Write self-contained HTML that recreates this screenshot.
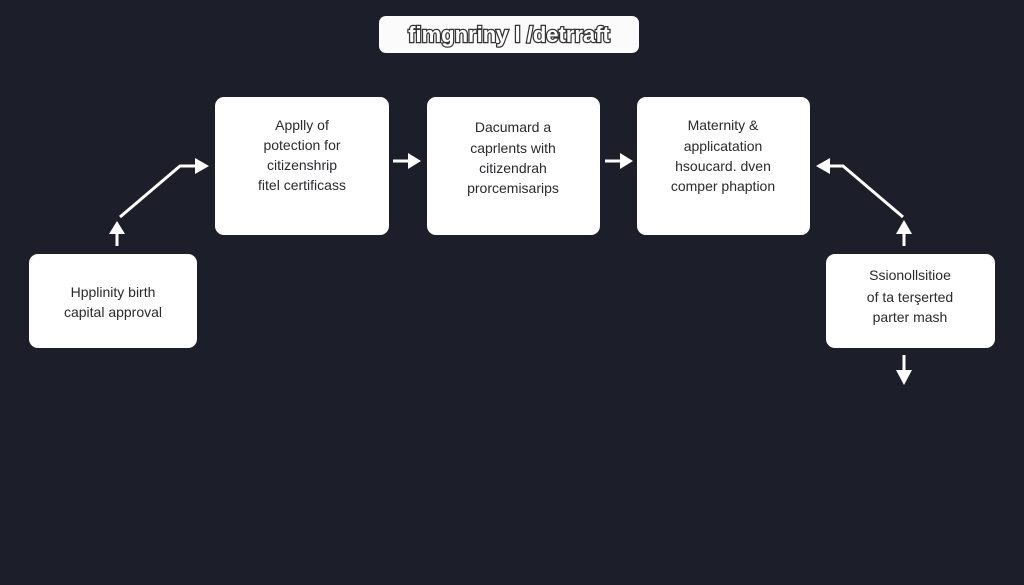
<!DOCTYPE html>
<html><head><meta charset="utf-8"><style>
html,body{margin:0;padding:0;background:#1c1f2a;}
svg{display:block}
text{font-family:"Liberation Sans",sans-serif;fill:#2a2a2e;font-size:14px;text-anchor:middle}
</style></head><body>
<svg width="1024" height="585" viewBox="0 0 1024 585" xmlns="http://www.w3.org/2000/svg">
<rect width="1024" height="585" fill="#1c1f2a"/>
<rect x="379" y="16" width="260" height="37" rx="7" fill="#fbfbfb"/>
<text x="509" y="42" style="font-size:22px;font-weight:bold;fill:#fff;stroke:#333;stroke-width:2.5px;paint-order:stroke" font-family="Liberation Serif">fimgnriny l /detrraft</text>
<g fill="#fff">
<rect x="215" y="97" width="174" height="138" rx="9"/>
<rect x="427" y="97" width="173" height="138" rx="9"/>
<rect x="637" y="97" width="173" height="138" rx="9"/>
<rect x="29" y="254" width="168" height="94" rx="9"/>
<rect x="826" y="254" width="169" height="94" rx="9"/>
</g>
<text x="302" y="130">Applly of</text>
<text x="302" y="150">potection for</text>
<text x="302" y="170">citizenshrip</text>
<text x="302" y="190">fitel certificass</text>
<text x="513" y="132">Dacumard a</text>
<text x="513" y="153">caprlents with</text>
<text x="513" y="173">citizendrah</text>
<text x="513" y="193">prorcemisarips</text>
<text x="723" y="130">Maternity &amp;</text>
<text x="723" y="151">applicatation</text>
<text x="723" y="171">hsoucard. dven</text>
<text x="723" y="191">comper phaption</text>
<text x="113" y="297">Hpplinity birth</text>
<text x="113" y="317">capital approval</text>
<text x="910" y="280">Ssionollsitioe</text>
<text x="910" y="302">of ta terşerted</text>
<text x="910" y="322">parter mash</text>
<g stroke="#fff" stroke-width="3" fill="none">
<line x1="117" y1="246" x2="117" y2="232"/>
<polyline points="120,217 180,166 196,166"/>
<line x1="393" y1="161" x2="410" y2="161"/>
<line x1="605" y1="161" x2="622" y2="161"/>
<polyline points="903,217 843,166 828,166"/>
<line x1="904" y1="246" x2="904" y2="232"/>
<line x1="904" y1="355" x2="904" y2="372"/>
</g>
<g fill="#fff">
<polygon points="109,234 125,234 117,221"/>
<polygon points="195,158 195,174 209,166"/>
<polygon points="408,153 408,169 421,161"/>
<polygon points="620,153 620,169 633,161"/>
<polygon points="830,158 830,174 816,166"/>
<polygon points="896,234 912,234 904,220"/>
<polygon points="896,370 912,370 904,385"/>
</g>
</svg>
</body></html>
